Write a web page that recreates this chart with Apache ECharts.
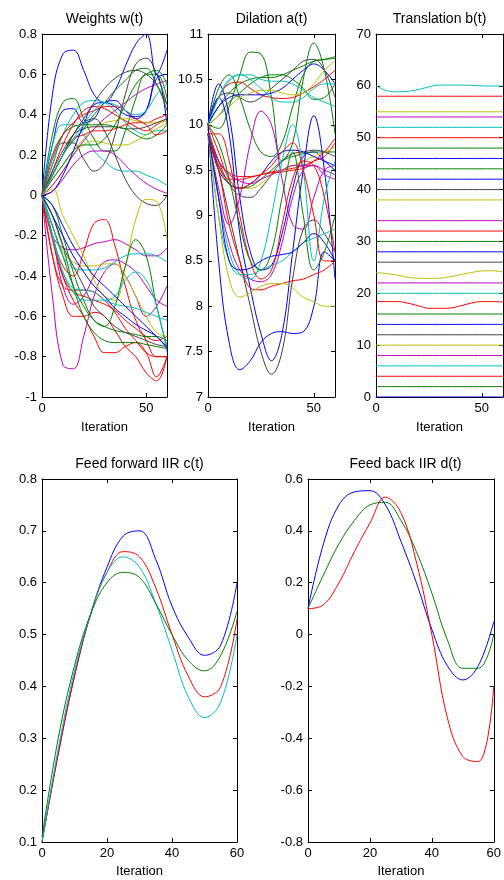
<!DOCTYPE html>
<html><head><meta charset="utf-8">
<script src="https://cdn.jsdelivr.net/npm/echarts@6/dist/echarts.min.js"></script>
<style>html,body{margin:0;padding:0;background:#fff}#c{width:504px;height:880px}</style>
</head><body><div id="c"></div>
<script>
// ---- data ----
const iterations = [0,5,10,15,20,25,30,35,40,45,50,55,60];

const weightColorKeys = ['b','g','b','k','c','c','r','r','y','y','m','m','k','k','g','g','b','k','g','r','c',
  'm','m','m','r','r','r','r','r','y','y','g','g','g','c','c','c','b','b','k'];
const weightPaths = [
  [0,0.5,0.7,0.72,0.62,0.5,0.46,0.52,0.64,0.75,0.8,0.6,0.72],
  [0,0.3,0.46,0.48,0.38,0.28,0.22,0.22,0.32,0.48,0.6,0.6,0.48],
  [0,0.25,0.42,0.43,0.36,0.38,0.46,0.47,0.42,0.38,0.42,0.6,0.35],
  [0,0.15,0.26,0.26,0.18,0.12,0.16,0.3,0.5,0.65,0.68,0.6,0.45],
  [0,0.25,0.35,0.35,0.3,0.22,0.17,0.13,0.12,0.12,0.1,0.08,0.05],
  [0,0.15,0.3,0.4,0.46,0.47,0.46,0.42,0.36,0.32,0.3,0.32,0.32],
  [0,0.12,0.25,0.35,0.42,0.44,0.43,0.4,0.37,0.34,0.32,0.35,0.38],
  [0,0.1,0.2,0.28,0.3,0.32,0.32,0.33,0.35,0.36,0.36,0.38,0.4],
  [0,0.05,0.12,0.2,0.25,0.27,0.26,0.25,0.25,0.27,0.3,0.33,0.36],
  [0,0.08,0.15,0.22,0.28,0.33,0.36,0.37,0.38,0.37,0.36,0.36,0.37],
  [0,0.02,0.08,0.15,0.2,0.22,0.22,0.2,0.15,0.1,0.06,0.03,0.01],
  [0,0.05,0.12,0.2,0.27,0.33,0.38,0.42,0.46,0.5,0.53,0.55,0.57],
  [0,0.12,0.22,0.3,0.33,0.34,0.34,0.34,0.33,0.33,0.34,0.36,0.38],
  [0,0.1,0.2,0.3,0.38,0.46,0.53,0.58,0.61,0.62,0.6,0.55,0.42],
  [0,0.1,0.2,0.27,0.33,0.4,0.46,0.52,0.57,0.62,0.63,0.55,0.45],
  [0,0.2,0.3,0.34,0.35,0.35,0.35,0.34,0.33,0.3,0.28,0.3,0.35],
  [0,0.02,0.1,0.22,0.35,0.45,0.46,0.44,0.4,0.39,0.42,0.58,0.6],
  [0,0.1,0.2,0.3,0.36,0.38,0.32,0.2,0.08,0.0,-0.04,-0.05,0.0],
  [0,0.08,0.15,0.22,0.25,0.25,0.28,0.35,0.45,0.55,0.6,0.62,0.55],
  [0,0.18,0.3,0.36,0.4,0.42,0.44,0.44,0.42,0.38,0.35,0.3,0.32],
  [0,0.1,0.2,0.28,0.35,0.42,0.46,0.45,0.42,0.4,0.42,0.5,0.55],
  [0,-0.5,-0.84,-0.86,-0.7,-0.5,-0.38,-0.34,-0.4,-0.5,-0.6,-0.55,-0.45],
  [0,-0.2,-0.45,-0.54,-0.5,-0.4,-0.33,-0.32,-0.34,-0.38,-0.45,-0.52,-0.55],
  [0,-0.2,-0.26,-0.27,-0.26,-0.24,-0.23,-0.22,-0.24,-0.27,-0.3,-0.3,-0.26],
  [0,-0.2,-0.35,-0.4,-0.28,-0.14,-0.12,-0.25,-0.45,-0.62,-0.72,-0.8,-0.8],
  [0,-0.2,-0.4,-0.52,-0.6,-0.7,-0.78,-0.78,-0.75,-0.73,-0.78,-0.9,-0.8],
  [0,-0.22,-0.4,-0.48,-0.5,-0.52,-0.54,-0.57,-0.62,-0.66,-0.7,-0.72,-0.7],
  [0,-0.3,-0.45,-0.47,-0.47,-0.48,-0.52,-0.58,-0.66,-0.72,-0.78,-0.8,-0.8],
  [0,-0.3,-0.5,-0.6,-0.6,-0.58,-0.6,-0.67,-0.75,-0.8,-0.88,-0.92,-0.8],
  [0,0.03,-0.1,-0.2,-0.3,-0.42,-0.5,-0.52,-0.35,-0.12,-0.02,-0.03,-0.22],
  [0,-0.15,-0.28,-0.33,-0.35,-0.35,-0.34,-0.34,-0.4,-0.5,-0.6,-0.68,-0.7],
  [0,-0.05,-0.2,-0.38,-0.52,-0.62,-0.65,-0.55,-0.35,-0.22,-0.3,-0.55,-0.75],
  [0,-0.1,-0.25,-0.45,-0.6,-0.68,-0.72,-0.73,-0.73,-0.73,-0.74,-0.75,-0.76],
  [0,-0.15,-0.3,-0.45,-0.55,-0.62,-0.65,-0.67,-0.68,-0.69,-0.7,-0.7,-0.72],
  [0,-0.2,-0.38,-0.48,-0.52,-0.52,-0.52,-0.5,-0.42,-0.38,-0.42,-0.55,-0.78],
  [0,-0.15,-0.3,-0.36,-0.37,-0.37,-0.36,-0.33,-0.3,-0.29,-0.29,-0.3,-0.33],
  [0,-0.2,-0.38,-0.46,-0.47,-0.48,-0.52,-0.54,-0.55,-0.56,-0.58,-0.6,-0.62],
  [0,-0.1,-0.2,-0.3,-0.38,-0.45,-0.5,-0.56,-0.6,-0.64,-0.67,-0.7,-0.76],
  [0,-0.05,-0.15,-0.25,-0.33,-0.4,-0.45,-0.5,-0.55,-0.6,-0.65,-0.7,-0.75],
  [0,-0.1,-0.25,-0.35,-0.45,-0.55,-0.6,-0.65,-0.68,-0.7,-0.72,-0.74,-0.75]
];

const dilationColorKeys = ['g','g','g','g','c','r','b','k','y','b','r','k','g','y','b','m','r',
  'b','k','b','m','m','c','c','r','r','y','b','g','c','r'];
const dilationPaths = [
  [10,10.4,10.55,10.3,9.95,9.7,9.65,9.8,10.2,10.55,10.7,10.72,10.75],
  [10,9.96,10.2,10.55,10.8,10.78,10.3,9.6,9.8,10.5,10.9,10.6,9.9],
  [10,10.2,10.35,10.45,10.5,10.52,10.52,10.55,10.6,10.65,10.7,10.72,10.73],
  [10,10.1,10.25,10.35,10.45,10.52,10.55,10.55,10.5,10.4,10.28,10.3,10.45],
  [10,10.3,10.48,10.55,10.55,10.5,10.48,10.48,10.45,10.38,10.3,10.25,10.2],
  [10,10.3,10.45,10.47,10.4,10.33,10.3,10.29,10.3,10.35,10.42,10.5,10.6],
  [10,10.2,10.3,10.33,10.33,10.33,10.35,10.4,10.5,10.6,10.67,10.6,10.45],
  [10,10.3,10.35,10.3,10.25,10.3,10.4,10.5,10.6,10.7,10.72,10.6,10.3],
  [10,10.1,10.2,10.3,10.35,10.38,10.38,10.35,10.33,10.35,10.45,10.6,10.7],
  [10,10.45,10.1,9.2,8.6,8.4,8.45,8.8,9.3,9.65,9.7,9.6,9.5],
  [9.9,9.6,9.47,9.43,9.43,9.45,9.48,9.5,9.52,9.55,9.6,9.65,9.8],
  [9.95,9.6,9.35,9.22,9.2,9.3,9.45,9.6,9.68,9.7,9.72,9.7,9.65],
  [9.9,9.55,9.35,9.3,9.32,9.4,9.5,9.6,9.65,9.68,9.7,9.7,9.7],
  [9.85,9.55,9.35,9.3,9.3,9.35,9.45,9.5,9.55,9.6,9.65,9.7,9.75],
  [9.9,9.5,9.35,9.3,9.35,9.45,9.6,9.7,9.72,9.7,9.65,9.6,9.55],
  [9.9,9.6,9.45,9.38,9.35,9.4,9.45,9.5,9.55,9.55,9.55,9.5,9.45],
  [9.85,9.55,9.4,9.4,9.42,9.45,9.47,9.48,9.5,9.52,9.6,9.7,9.85],
  [10,8.5,7.6,7.3,7.4,7.6,7.7,7.72,7.7,7.72,8.0,8.6,8.5],
  [9.9,9.5,9.0,8.5,8.0,7.5,7.25,7.5,8.3,8.85,8.95,8.8,8.6],
  [10,10.3,9.9,8.8,8.2,7.7,7.4,7.7,8.6,9.5,10.1,9.5,8.3],
  [9.9,9.3,8.9,9.2,9.8,10.15,10.0,9.4,8.9,8.85,9.2,9.5,9.55],
  [9.9,9.2,8.7,8.4,8.3,8.27,8.35,8.7,9.2,9.5,9.55,9.45,9.4],
  [9.9,9.0,8.5,8.35,8.35,8.4,8.45,8.5,8.6,8.7,8.75,8.8,8.85],
  [9.9,9.2,8.6,8.35,8.3,8.5,9.0,9.6,10.0,9.5,8.5,9.2,9.6],
  [9.9,9.5,8.9,8.5,8.2,8.18,8.22,8.25,8.28,8.3,8.35,8.4,8.5],
  [9.9,9.9,9.6,9.0,8.5,8.3,8.4,8.9,9.4,9.6,9.55,9.2,8.6],
  [9.9,9.0,8.3,8.1,8.15,8.22,8.25,8.25,8.2,8.1,8.05,8.0,8.0],
  [9.9,9.2,8.5,8.4,8.42,8.5,8.55,8.57,8.6,8.7,8.8,8.7,8.5],
  [10,9.8,9.4,8.9,8.5,8.4,8.6,9.2,9.7,9.0,8.4,8.6,9.0],
  [10,10.3,10.5,10.55,10.5,10.4,10.3,10.25,10.25,10.3,10.4,10.45,10.45],
  [10,9.7,9.4,9.3,9.35,9.45,9.55,9.7,9.8,9.5,9.0,8.5,8.5]
];

// constant translation levels (read at both ends, t = 0 and t = 60)
const translationLevels = [0,2,4,6,8,10,12,14,16,20,22,26,28,30,32,34,38,40,42,44,46,48,50,52,54,55,58];
const translationLevelColors = ['b','g','r','c','m','y','k','b','g','c','m','k','b','g','r','m','y','k','b','g','b','g','r','c','m','y','r'];
const translationEnds = [0,60];
const translationCyan60 = [60,59.1,58.85,58.95,59.3,59.8,60.15,60.15,60.15,60.1,60.0,59.97,59.97];
const translationYellow24 = [24,23.8,23.5,23.1,22.9,22.88,22.9,23.2,23.6,24.0,24.3,24.35,24.1];
const translationRed18 = [18.4,18.4,18.4,18.1,17.6,17.1,17.1,17.15,17.6,18.1,18.4,18.4,18.3];

const ffBlue  = [0.1,0.27,0.42,0.54,0.63,0.69,0.70,0.645,0.555,0.495,0.46,0.48,0.6];
const ffRed   = [0.1,0.27,0.42,0.54,0.62,0.66,0.65,0.59,0.50,0.42,0.38,0.40,0.53];
const ffCyan  = [0.1,0.28,0.43,0.54,0.62,0.65,0.63,0.56,0.47,0.38,0.34,0.37,0.50];
const ffGreen = [0.11,0.3,0.44,0.54,0.6,0.62,0.61,0.56,0.5,0.45,0.43,0.46,0.545];

const fbBlue  = [0.1,0.35,0.5,0.55,0.555,0.5,0.36,0.2,0.02,-0.12,-0.175,-0.12,0.05];
const fbGreen = [0.1,0.23,0.35,0.44,0.5,0.51,0.44,0.32,0.16,-0.02,-0.13,-0.13,0.0];
const fbRed   = [0.1,0.115,0.2,0.32,0.43,0.53,0.47,0.28,0.0,-0.32,-0.47,-0.49,-0.2];

const titles = ['Weights w(t)','Dilation a(t)','Translation b(t)','Feed forward IIR c(t)','Feed back IIR d(t)'];

// ---- styling / layout ----
const COLORS = {b:'#0000ff', g:'#008000', r:'#ff0000', c:'#00bfbf', m:'#bf00bf', y:'#bfbf00', k:'#404040'};
const FONT = 'Liberation Sans, Arial, Helvetica, sans-serif';
const grids = [
  {left:42, top:34, width:125, height:363},
  {left:208, top:34, width:127, height:363},
  {left:376, top:34, width:127, height:363},
  {left:42, top:479, width:195, height:363},
  {left:308, top:479, width:195, height:363}
];
const yRanges = [[-1,0.8,0.2],[7,11,0.5],[0,70,10],[0.1,0.8,0.1],[-0.8,0.6,0.2]];
const xIntervals = [50,50,50,20,20];
const nameGaps = [24,24,24,23,23];

const xAxes = [], yAxes = [];
grids.forEach((g, i) => {
  const common = {gridIndex:i, type:'value', splitLine:{show:false},
    axisLine:{show:true, onZero:false, lineStyle:{color:'#000', width:1}},
    axisTick:{show:true, inside:true, length:4, lineStyle:{color:'#000'}}};
  xAxes.push(Object.assign({}, common, {position:'bottom', min:0, max:60, interval:xIntervals[i],
    name:'Iteration', nameLocation:'middle', nameGap:nameGaps[i],
    nameTextStyle:{color:'#000', fontSize:13, fontFamily:FONT},
    axisLabel:{color:'#000', fontSize:13, fontFamily:FONT, margin:5, showMaxLabel: i>=3}}));
  xAxes.push(Object.assign({}, common, {position:'top', min:0, max:60, interval:xIntervals[i], axisLabel:{show:false}}));
  const yr = yRanges[i];
  yAxes.push(Object.assign({}, common, {position:'left', min:yr[0], max:yr[1], interval:yr[2],
    axisLabel:{color:'#000', fontSize:13, fontFamily:FONT, margin:5}}));
  yAxes.push(Object.assign({}, common, {position:'right', min:yr[0], max:yr[1], interval:yr[2], axisLabel:{show:false}}));
});

const series = [];
function addLine(panel, xs, ys, colorKey) {
  series.push({type:'line', xAxisIndex:panel*2, yAxisIndex:panel*2, showSymbol:false, smooth:0.4,
    silent:true, animation:false, lineStyle:{width:1, color:COLORS[colorKey]},
    data: ys.map((v, k) => [xs[k], v])});
}
weightPaths.forEach((p, k) => addLine(0, iterations, p, weightColorKeys[k]));
dilationPaths.forEach((p, k) => addLine(1, iterations, p, dilationColorKeys[k]));
translationLevels.forEach((lv, k) => addLine(2, translationEnds, [lv, lv], translationLevelColors[k]));
addLine(2, iterations, translationCyan60, 'c');
addLine(2, iterations, translationYellow24, 'y');
addLine(2, iterations, translationRed18, 'r');
addLine(3, iterations, ffBlue, 'b');
addLine(3, iterations, ffRed, 'r');
addLine(3, iterations, ffCyan, 'c');
addLine(3, iterations, ffGreen, 'g');
addLine(4, iterations, fbBlue, 'b');
addLine(4, iterations, fbGreen, 'g');
addLine(4, iterations, fbRed, 'r');

const titleGraphics = titles.map((t, i) => ({
  type:'text', x: grids[i].left + grids[i].width/2, y: grids[i].top - 15,
  style:{text:t, fill:'#000', font:'14px ' + FONT, textAlign:'center', textVerticalAlign:'middle'}
}));

const chart = echarts.init(document.getElementById('c'), null, {renderer:'canvas'});
chart.setOption({
  animation:false, backgroundColor:'#fff',
  grid: grids, xAxis: xAxes, yAxis: yAxes, series: series, graphic: titleGraphics
});
</script>
</body></html>
